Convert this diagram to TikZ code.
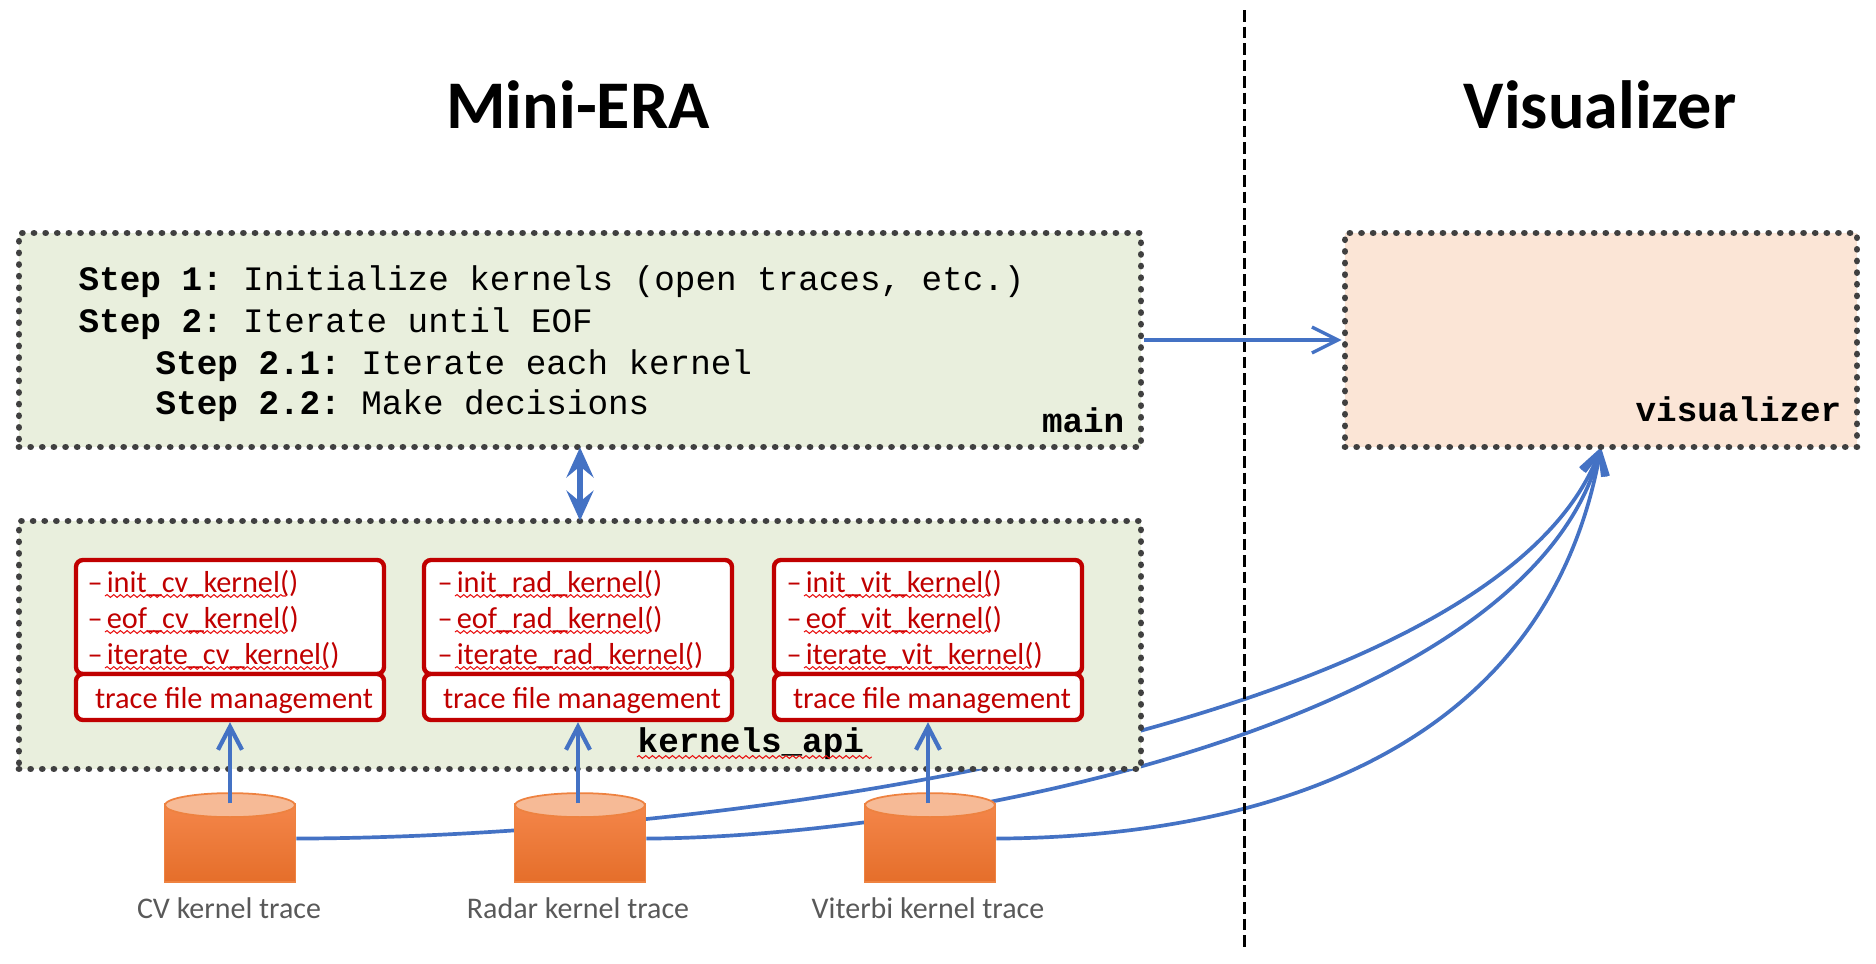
\documentclass[tikz,border=0pt]{standalone}
\usepackage{fontspec}
\setmainfont{Carlito}
\newfontfamily\codefont{Liberation Mono}
\usetikzlibrary{arrows.meta, shapes.geometric, decorations.pathmorphing, calc, backgrounds}

\definecolor{linkblue}{HTML}{4472C4}
\definecolor{apired}{HTML}{C00000}
\definecolor{wavered}{HTML}{E81010}
\definecolor{boxgreen}{HTML}{E9EFDD}
\definecolor{boxpeach}{HTML}{FBE5D6}
\definecolor{dotgrey}{HTML}{404040}
\definecolor{labelgrey}{HTML}{595959}
\definecolor{dbedge}{HTML}{EE8240}
\definecolor{dbtop}{HTML}{F4864A}
\definecolor{dbmid}{HTML}{F37B33}
\definecolor{dbbot}{HTML}{E56E2A}

\tikzset{
    title/.style={anchor=base, inner sep=0pt, font=\fontsize{19.4}{23}\selectfont\bfseries},
    module/.style={draw=dotgrey, line width=1.9pt, line cap=round, dash pattern=on 0.01pt off 3.3pt, inner sep=0pt},
    steptext/.style={anchor=base west, inner sep=0pt, font=\codefont\frenchspacing\fontsize{9.75}{12}\selectfont},
    modname/.style={inner sep=0pt, font=\codefont\bfseries\fontsize{9.75}{12}\selectfont},
    apibox/.style={draw=apired, fill=white, line width=1.25pt, rounded corners=0.07cm, minimum width=3.08cm, text=apired, inner sep=0pt},
    fnline/.style={anchor=base west, inner sep=0pt, text=apired, font=\fontsize{8.63}{10}\selectfont},
    wavy/.style={draw=wavered, line width=0.3pt, decorate, decoration={snake, amplitude=0.4pt, segment length=1.9pt}},
    tracedb/.style={cylinder, shape border rotate=90, aspect=0.33, minimum width=1.31cm, minimum height=0.78cm, anchor=bottom,
        draw=dbedge, line width=0.5pt, top color=dbtop, middle color=dbmid, bottom color=dbbot, inner sep=0pt},
    tracelabel/.style={anchor=base, inner sep=0pt, text=labelgrey, font=\fontsize{8.53}{10}\selectfont},
    link/.style={draw=linkblue, line width=1.05pt},
    linktip/.style={-{Straight Barb[length=0.23cm, width=0.24cm]}},
}

% wave under a function name, dash and parentheses left out
\newcommand{\fnwave}[1]{\draw[wavy] ($(#1.base west)+(0.18,-0.04)$) -- ($(#1.base east)+(-0.13,-0.04)$);}
% lighter lid of a trace cylinder
\newcommand{\dblid}[1]{\draw[draw=dbedge, line width=0.5pt, fill=dbedge!55!white] ($(#1.before top)!0.5!(#1.after top)+(0,-0.01)$) ellipse (0.65 and 0.12);}
% text of the lower red boxes
\newcommand{\filetext}{\fontsize{8.63}{10}\selectfont\hspace{0.08cm}\raisebox{-0.11cm}[0pt][0pt]{trace file management}}

\begin{document}
\begin{tikzpicture}
    \useasboundingbox (0,0) rectangle (18.76,-9.64);

    \node[title] (eratitle) at (5.78,-1.28) {Mini-ERA};
    \node[title] (vistitle) at (16.00,-1.28) {Visualizer};

    \coordinate (divtop) at (12.44,-0.10);
    \coordinate (divbot) at (12.44,-9.50);
    \draw[line width=0.85pt, dash pattern=on 3.3pt off 1.4pt] (divtop) -- (divbot);

    % main
    \node[module, fill=boxgreen, minimum width=11.22cm, minimum height=2.14cm] (main) at (5.80,-3.40) {};
    \node[steptext] (stepa) at (0.78,-2.90) {\textbf{Step 1:} Initialize kernels (open traces, etc.)};
    \node[steptext] (stepb) at (0.78,-3.32) {\textbf{Step 2:} Iterate until EOF};
    \node[steptext] (stepc) at (1.55,-3.74) {\textbf{Step 2.1:} Iterate each kernel};
    \node[steptext] (stepd) at (1.55,-4.14) {\textbf{Step 2.2:} Make decisions};
    \node[modname, anchor=base east] (mainname) at (11.25,-4.32) {main};

    % visualizer
    \node[module, fill=boxpeach, minimum width=5.12cm, minimum height=2.14cm] (visu) at (16.01,-3.40) {};
    \node[modname, anchor=base east] (visuname) at (18.42,-4.21) {visualizer};

    % kernels_api
    \node[module, fill=boxgreen, minimum width=11.22cm, minimum height=2.48cm] (kernels) at (5.80,-6.45) {};
    \node[modname, anchor=base west] (apiname) at (6.37,-7.52) {kernels\_api};
    \draw[wavy] ($(apiname.base west)+(0,-0.05)$) -- ($(apiname.base east)+(0.07,-0.05)$);

    % cv kernel
    \node[apibox, minimum height=1.14cm] (cvfns) at (2.30,-6.17) {};
    \node[apibox, minimum height=0.46cm] (cvfile) at (2.30,-6.97) {\filetext};
    \node[fnline] (cvinit) at (0.87,-5.92) {\textendash\hspace{0.04cm}init\_cv\_kernel()};
    \node[fnline] (cveof) at (0.87,-6.28) {\textendash\hspace{0.04cm}eof\_cv\_kernel()};
    \node[fnline] (cviter) at (0.87,-6.64) {\textendash\hspace{0.04cm}iterate\_cv\_kernel()};
    \fnwave{cvinit} \fnwave{cveof} \fnwave{cviter}

    % radar kernel
    \node[apibox, minimum height=1.14cm] (radfns) at (5.78,-6.17) {};
    \node[apibox, minimum height=0.46cm] (radfile) at (5.78,-6.97) {\filetext};
    \node[fnline] (radinit) at (4.37,-5.92) {\textendash\hspace{0.04cm}init\_rad\_kernel()};
    \node[fnline] (radeof) at (4.37,-6.28) {\textendash\hspace{0.04cm}eof\_rad\_kernel()};
    \node[fnline] (raditer) at (4.37,-6.64) {\textendash\hspace{0.04cm}iterate\_rad\_kernel()};
    \fnwave{radinit} \fnwave{radeof} \fnwave{raditer}

    % viterbi kernel
    \node[apibox, minimum height=1.14cm] (vitfns) at (9.28,-6.17) {};
    \node[apibox, minimum height=0.46cm] (vitfile) at (9.28,-6.97) {\filetext};
    \node[fnline] (vitinit) at (7.86,-5.92) {\textendash\hspace{0.04cm}init\_vit\_kernel()};
    \node[fnline] (viteof) at (7.86,-6.28) {\textendash\hspace{0.04cm}eof\_vit\_kernel()};
    \node[fnline] (vititer) at (7.86,-6.64) {\textendash\hspace{0.04cm}iterate\_vit\_kernel()};
    \fnwave{vitinit} \fnwave{viteof} \fnwave{vititer}

    % traces
    \node[tracedb] (cvtrace) at (2.30,-8.83) {};
    \node[tracedb] (radtrace) at (5.80,-8.83) {};
    \node[tracedb] (vittrace) at (9.30,-8.83) {};
    \dblid{cvtrace} \dblid{radtrace} \dblid{vittrace}
    \node[tracelabel] (cvlabel) at (2.29,-9.18) {CV kernel trace};
    \node[tracelabel] (radlabel) at (5.78,-9.18) {Radar kernel trace};
    \node[tracelabel] (vitlabel) at (9.28,-9.18) {Viterbi kernel trace};

    % connectors
    \draw[link, line width=1.2pt, linktip] (cvtrace.top -| cvfile.south) -- (cvfile.south);
    \draw[link, line width=1.2pt, linktip] (radtrace.top -| radfile.south) -- (radfile.south);
    \draw[link, line width=1.2pt, linktip] (vittrace.top -| vitfile.south) -- (vitfile.south);
    \draw[link, line width=1.5pt, {Stealth[length=0.3cm, width=0.27cm, inset=0.11cm]}-{Stealth[length=0.3cm, width=0.27cm, inset=0.11cm]}] ([yshift=0.03cm]main.south) -- ([yshift=-0.03cm]kernels.north);
    \draw[link, line width=0.95pt, -{Straight Barb[length=0.26cm, width=0.26cm]}] (main.east) -- (visu.west);

    % these run behind the boxes and the cylinders
    \begin{pgfonlayer}{background}
        \draw[link, linktip] ([yshift=0.05cm]cvtrace.east) .. controls (7.60,-8.37) and (15.00,-7.20) .. ([yshift=0.03cm]visu.south);
        \draw[link, linktip] ([yshift=0.05cm]radtrace.east) .. controls (9.50,-8.37) and (15.30,-7.20) .. ([yshift=0.03cm]visu.south);
        \draw[link, linktip] ([yshift=0.05cm]vittrace.east) .. controls (12.50,-8.37) and (15.45,-7.60) .. ([yshift=0.03cm]visu.south);
    \end{pgfonlayer}
\end{tikzpicture}
\end{document}
